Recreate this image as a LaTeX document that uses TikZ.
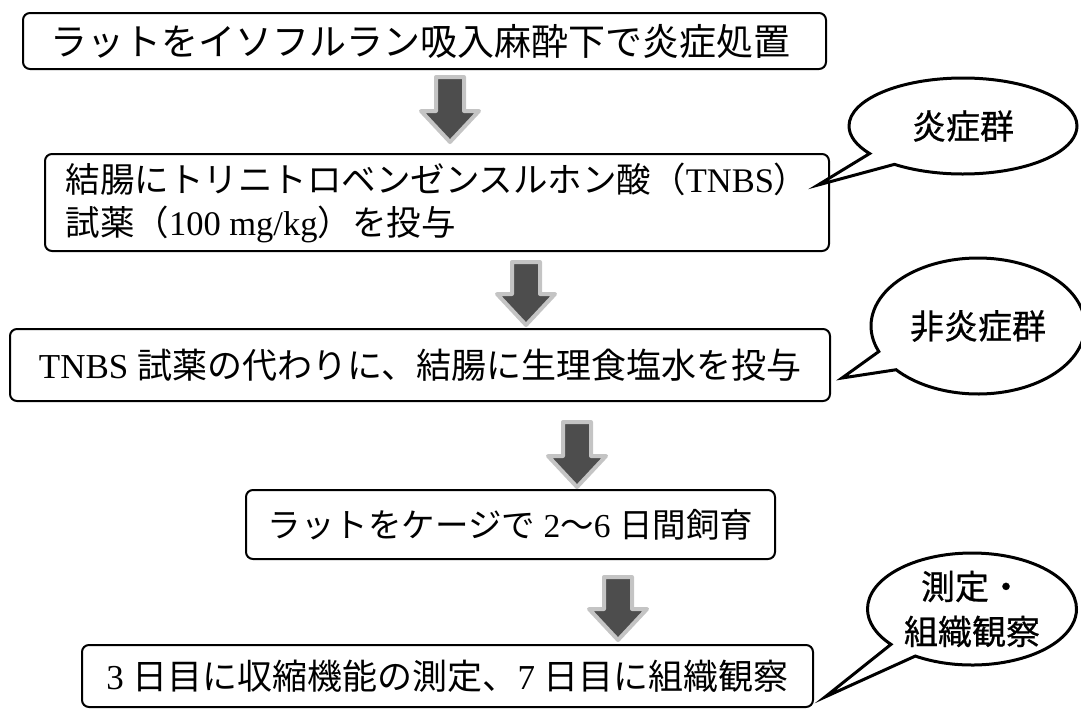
\documentclass[tikz,border=0pt]{standalone}
\usepackage{fontspec}
\setmainfont{Liberation Serif}
\newfontfamily\cjk{Noto Sans CJK JP}
\newfontfamily\cjkb{Noto Sans CJK JP}[FakeBold=0.6]
\usetikzlibrary{shapes.callouts}
\definecolor{arrowfill}{HTML}{4D4D4D}
\definecolor{arrowglow}{HTML}{C4C4C4}
\tikzset{
  stepbox/.style={draw=black, line width=2pt, rounded corners=7pt, fill=white, inner sep=0pt, align=left},
  bubble/.style={ellipse callout, draw=black, line width=3pt, fill=white, inner sep=0pt,
    callout pointer arc=18, align=center, font=\cjkb\fontsize{34}{45}\selectfont},
  blockarrow/.style={fill=arrowfill, draw=arrowglow, line width=4pt, line join=round},
}
\newcommand\blockarr[3]{%
  \path[blockarrow] (#1-14,#2) -- (#1+14,#2) -- (#1+14,#3-31) -- (#1+29,#3-31) -- (#1,#3)
    -- (#1-29,#3-31) -- (#1-14,#3-31) -- cycle;}
\begin{document}
\begin{tikzpicture}[x=1pt,y=-1pt]
\useasboundingbox (0,0) rectangle (1081,710);
% steps
\node[stepbox, minimum width=803, minimum height=56, font=\fontsize{37}{40}\selectfont] (b1) at (424.5,41)
  {{\cjk ラットをイソフルラン吸入麻酔下で炎症処置}\hspace*{8pt}};
\node[stepbox, minimum width=784, minimum height=97, font=\fontsize{34.5}{43}\selectfont] (b2) at (437,202.5)
  {{\cjk 結腸にトリニトロベンゼンスルホン酸（}TNBS{\cjk ）}\\{\cjk 試薬（}100 mg/kg{\cjk ）を投与}};
\node[stepbox, minimum width=820, minimum height=72, font=\fontsize{35}{43}\selectfont] (b3) at (420,365)
  {TNBS {\cjk 試薬の代わりに、結腸に生理食塩水を投与}};
\node[stepbox, minimum width=529, minimum height=69, font=\fontsize{33.5}{43}\selectfont] (b4) at (510.5,524.5)
  {{\cjk ラットをケージで} 2{\cjk 〜}6 {\cjk 日間飼育}};
\node[stepbox, minimum width=731, minimum height=62, font=\fontsize{35}{43}\selectfont] (b5) at (447.5,676)
  {3 {\cjk 日目に収縮機能の測定、}7 {\cjk 日目に組織観察}};
% block arrows
\blockarr{450}{77}{142}
\blockarr{526}{262}{325}
\blockarr{577}{422}{487}
\blockarr{618}{577}{640}
% callouts
\coordinate (tip1) at (818,185);
\coordinate (tip2) at (842,378);
\coordinate (tip3) at (825,697);
\node[bubble, minimum width=228, minimum height=96, callout absolute pointer={(tip1)}] (c1) at (963,126) {炎症群};
\node[bubble, minimum width=214, minimum height=136, callout absolute pointer={(tip2)}] (c2) at (978,326) {非炎症群};
\node[bubble, minimum width=209, minimum height=112, callout absolute pointer={(tip3)}] (c3) at (972,609) {測定・\\組織観察};
\end{tikzpicture}
\end{document}
